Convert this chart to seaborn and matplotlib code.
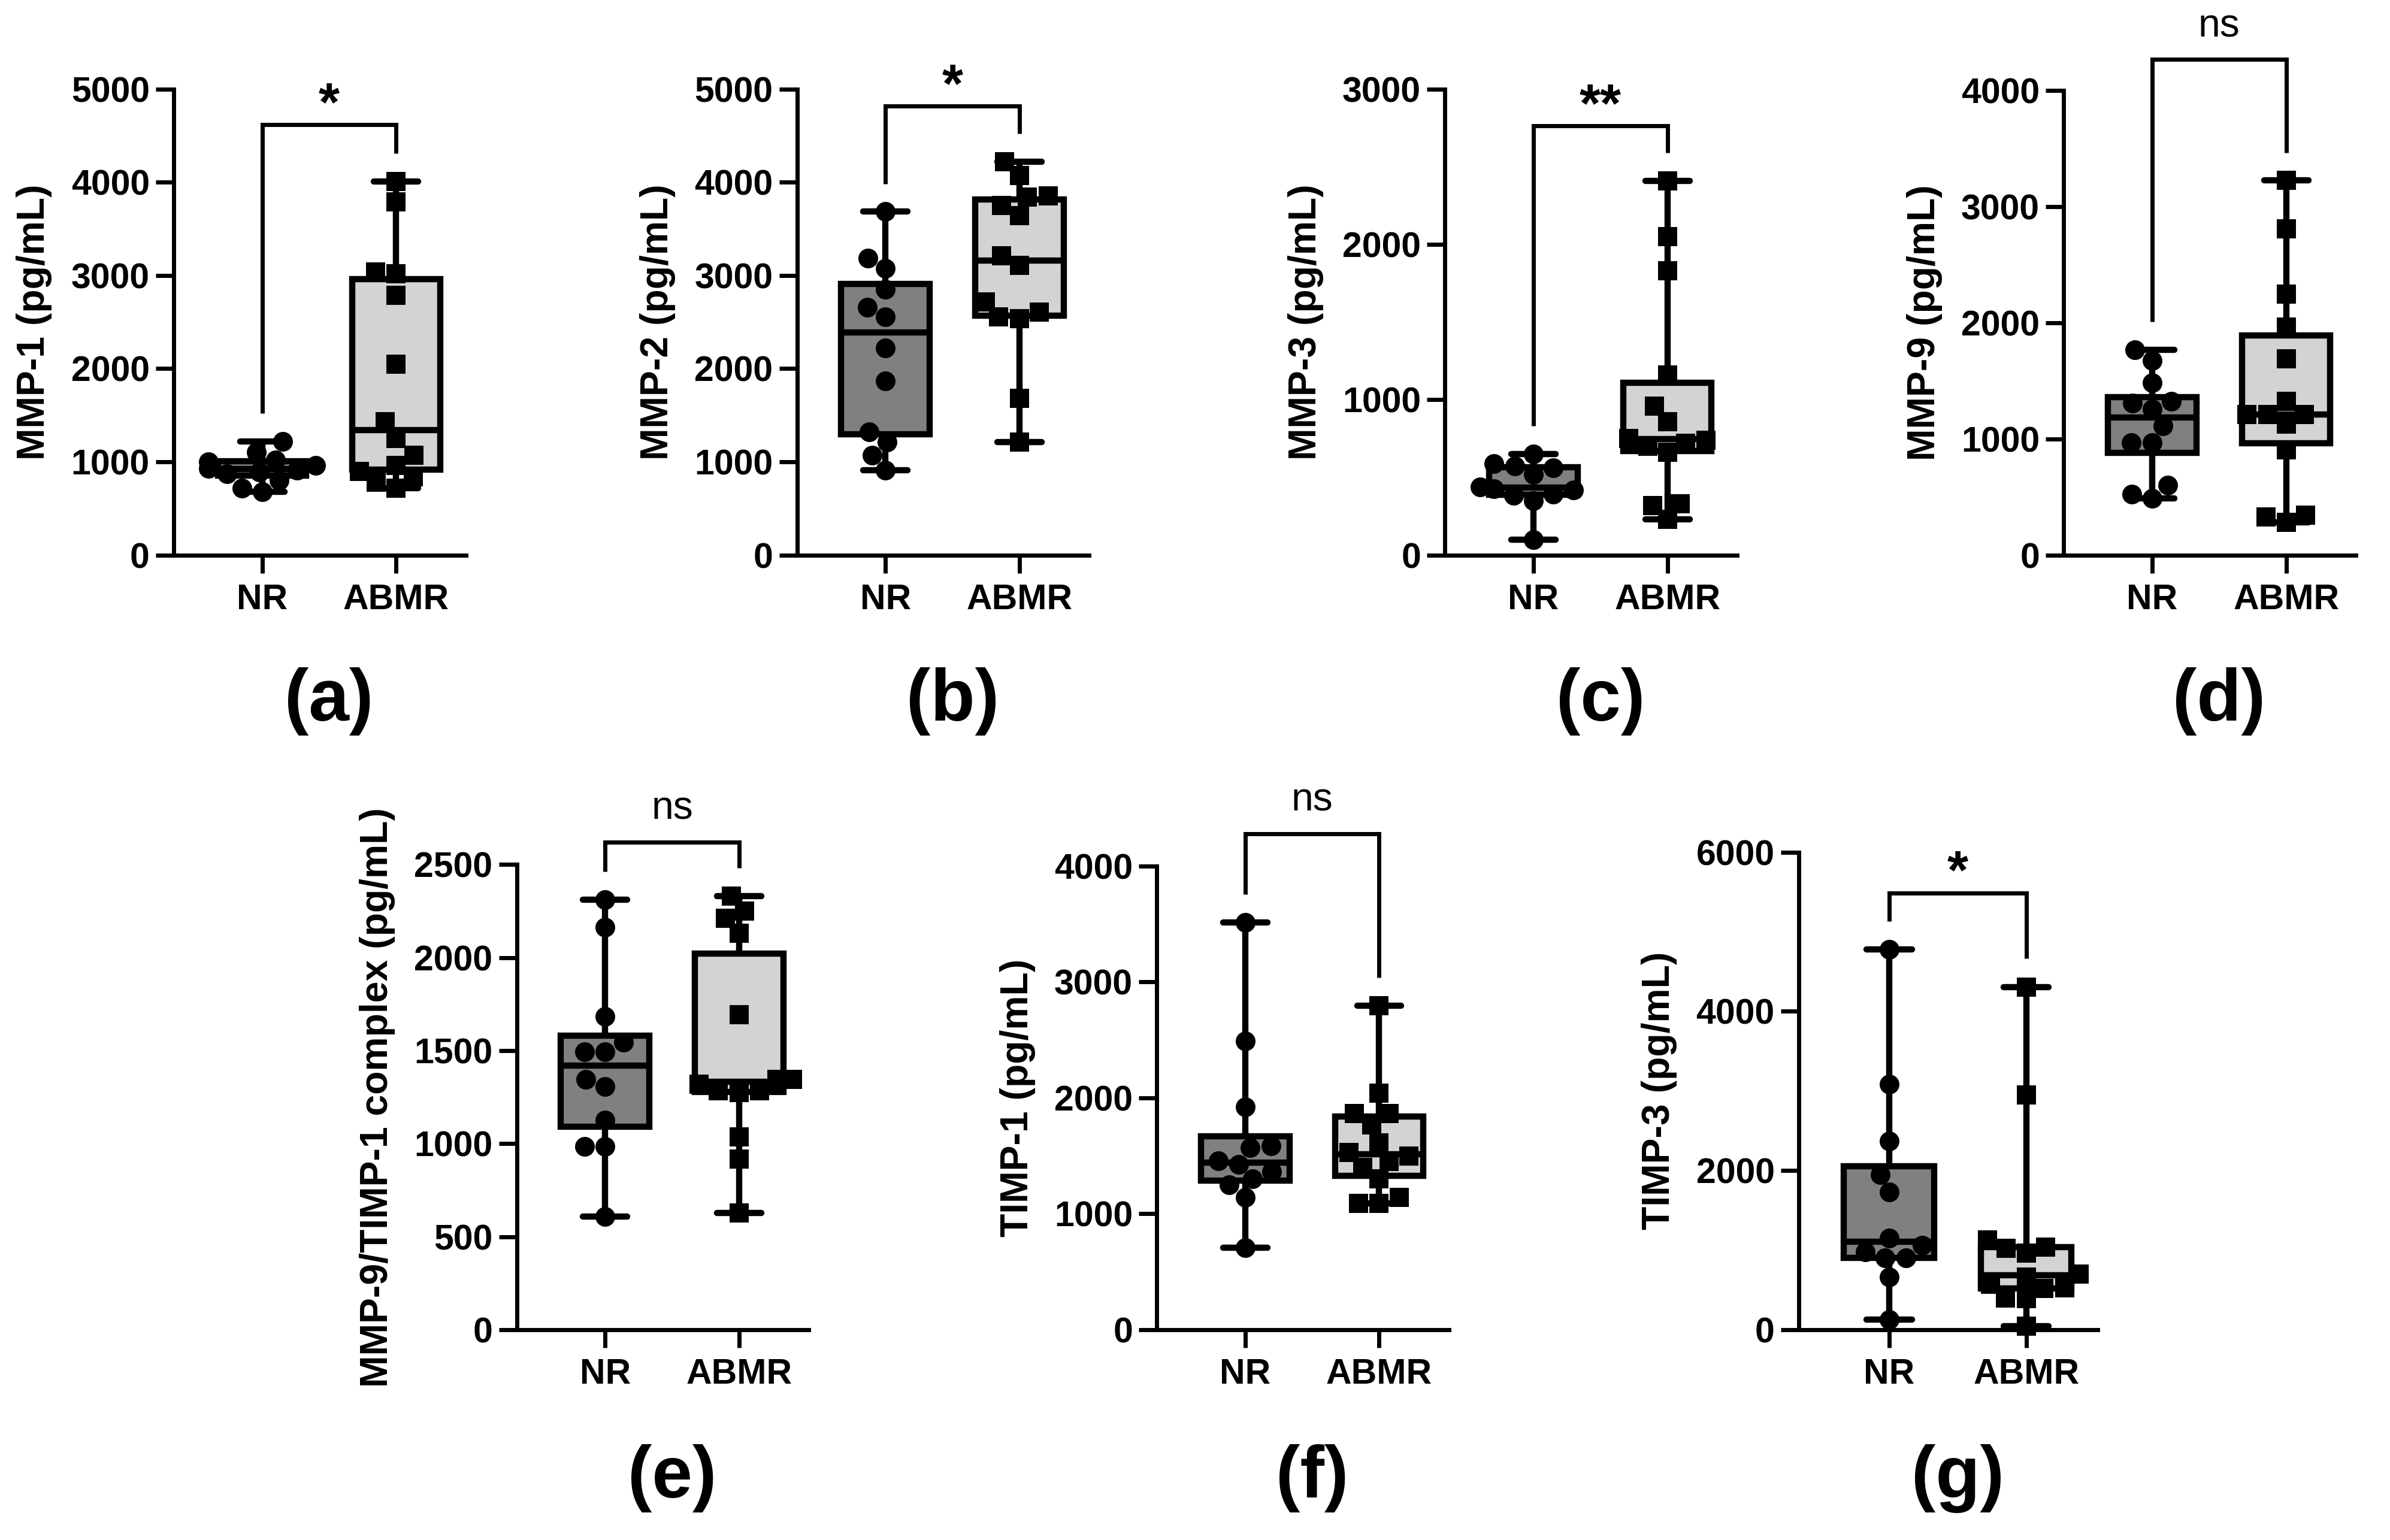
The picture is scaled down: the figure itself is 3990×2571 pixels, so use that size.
import warnings
warnings.filterwarnings("ignore")
import numpy as np
import pandas as pd
import matplotlib
matplotlib.use("Agg")
import matplotlib.pyplot as plt
import seaborn as sns

# ---------------- data ----------------
groups = ["NR", "ABMR"]
ylabels = ["MMP-1 (pg/mL)", "MMP-2 (pg/mL)", "MMP-3 (pg/mL)", "MMP-9 (pg/mL)",
           "MMP-9/TIMP-1 complex (pg/mL)", "TIMP-1 (pg/mL)", "TIMP-3 (pg/mL)"]
panel_tags = ["(a)", "(b)", "(c)", "(d)", "(e)", "(f)", "(g)"]
sig_labels = ["*", "*", "**", "ns", "ns", "ns", "*"]
y_tops = [5000, 5000, 3000, 4000, 2500, 4000, 6000]
y_steps = [1000, 1000, 1000, 1000, 500, 1000, 2000]

mmp1_nr = [1220, 1100, 1020, 1000, 960, 930, 910, 890, 870, 800, 720, 680]
mmp1_abmr = [4010, 3790, 3040, 3020, 2790, 2050, 1430, 1250, 1070, 960, 900, 840, 780, 720]
mmp2_nr = [3686, 3189, 3079, 2850, 2661, 2554, 2221, 1871, 1321, 1214, 1071, 911]
mmp2_abmr = [4221, 4071, 3857, 3839, 3750, 3643, 3214, 3107, 2714, 2607, 2554, 2536, 1679, 1214]
mmp3_nr = [650, 590, 575, 560, 520, 440, 425, 420, 390, 385, 350, 100]
mmp3_abmr = [2410, 2050, 1830, 1160, 960, 860, 750, 740, 720, 700, 660, 330, 320, 230]
mmp9_nr = [1770, 1674, 1482, 1322, 1306, 1258, 1114, 970, 970, 602, 522, 490]
mmp9_abmr = [3226, 2810, 2250, 1962, 1690, 1322, 1210, 1210, 1210, 1130, 906, 346, 330, 282]
cplx_nr = [2311, 2162, 1683, 1544, 1494, 1494, 1345, 1305, 1125, 986, 986, 608]
cplx_abmr = [2331, 2250, 2211, 2131, 1693, 1345, 1345, 1320, 1285, 1285, 1275, 1036, 916, 627]
timp1_nr = [3516, 2490, 1922, 1587, 1570, 1459, 1427, 1363, 1299, 1251, 1140, 709]
timp1_abmr = [2797, 2040, 1865, 1865, 1769, 1610, 1530, 1500, 1450, 1402, 1300, 1140, 1092, 1092]
timp3_nr = [4776, 3085, 2373, 1950, 1727, 1148, 1059, 979, 903, 903, 659, 125]
timp3_abmr = [4308, 2951, 1126, 1040, 1020, 960, 700, 660, 570, 525, 520, 400, 390, 40]

nr_sets = [mmp1_nr, mmp2_nr, mmp3_nr, mmp9_nr, cplx_nr, timp1_nr, timp3_nr]
abmr_sets = [mmp1_abmr, mmp2_abmr, mmp3_abmr, mmp9_abmr, cplx_abmr, timp1_abmr, timp3_abmr]

# ---------------- style / layout ----------------
sns.set_theme(style="ticks")
plt.rcParams["font.family"] = ["Liberation Sans", "DejaVu Sans"]
plt.rcParams["axes.edgecolor"] = "black"
plt.rcParams["xtick.color"] = "black"
plt.rcParams["ytick.color"] = "black"
plt.rcParams["text.color"] = "black"
plt.rcParams["axes.labelcolor"] = "black"

box_colors = {"NR": "#808080", "ABMR": "#d3d3d3"}
markers = {"NR": "o", "ABMR": "s"}

W = 0.1222
axes_pos = [
    [0.0727, 0.6396, W, 0.3025],
    [0.3335, 0.6396, W, 0.3025],
    [0.6046, 0.6396, W, 0.3025],
    [0.8635, 0.6396, W, 0.3015],
    [0.2162, 0.1366, W, 0.3020],
    [0.4840, 0.1366, W, 0.3010],
    [0.7526, 0.1366, 0.1250, 0.3100],
]
bracket_frac = [0.924, 0.964, 0.921, 1.067, 1.048, 1.070, 0.915]
tag_y = [0.5445, 0.5445, 0.5445, 0.5445, 0.040, 0.040, 0.040]

fig = plt.figure(figsize=(15.96, 10.284), dpi=250)

for i in range(7):
    ax = fig.add_axes(axes_pos[i])
    nr, ab = nr_sets[i], abmr_sets[i]
    df = pd.DataFrame({"group": ["NR"] * len(nr) + ["ABMR"] * len(ab),
                       "value": list(nr) + list(ab)})
    sns.boxplot(data=df, x="group", y="value", hue="group", order=groups,
                hue_order=groups, palette=box_colors, whis=(0, 100), width=0.66,
                linewidth=3.0, linecolor="black", showfliers=False, legend=False,
                dodge=False, saturation=1, ax=ax)
    for g in groups:
        sns.swarmplot(data=df[df["group"] == g], x="group", y="value", order=groups,
                      color="black", marker=markers[g], size=9.5, linewidth=0,
                      ax=ax, zorder=5)
    for c in ax.collections:
        c.set_clip_on(False)

    top = y_tops[i]
    ax.set_xlim(-0.66, 1.52)
    ax.set_ylim(0, top)
    ax.set_yticks(np.arange(0, top + 1, y_steps[i]))
    ax.set_xticks([0, 1])
    ax.set_xticklabels(groups)
    ax.set_xlabel("")
    ax.set_ylabel(ylabels[i], fontsize=18.5, fontweight="bold", labelpad=9)
    for s in ["top", "right"]:
        ax.spines[s].set_visible(False)
    for s in ["left", "bottom"]:
        ax.spines[s].set_linewidth(2.0)
    ax.tick_params(axis="both", width=2.0, length=8.6, labelsize=17)
    ax.tick_params(axis="y", pad=3)
    ax.tick_params(axis="x", pad=5)
    for lab in ax.get_xticklabels() + ax.get_yticklabels():
        lab.set_fontweight("bold")

    # significance bracket
    pad = 0.06 * top
    l0 = max(nr) + pad
    l1 = max(ab) + pad
    bt = bracket_frac[i] * top
    ax.plot([0, 0, 1, 1], [l0, bt, bt, l1], color="black", lw=2.0,
            clip_on=False, solid_joinstyle="miter", solid_capstyle="butt")
    if sig_labels[i] == "ns":
        ax.annotate("ns", xy=(0.5, bt), xytext=(0, 11), textcoords="offset points",
                    ha="center", va="baseline", fontsize=19, annotation_clip=False)
    else:
        ax.annotate(sig_labels[i], xy=(0.5, bt), xytext=(0, 2), textcoords="offset points",
                    ha="center", va="baseline", fontsize=26, fontweight="bold",
                    annotation_clip=False)

    # panel tag
    ax.annotate(panel_tags[i], xy=(0.5, tag_y[i]), xycoords=("data", "figure fraction"),
                ha="center", va="center", fontsize=35, fontweight="bold",
                annotation_clip=False)

fig.savefig("out.png", dpi=250, facecolor="white")
